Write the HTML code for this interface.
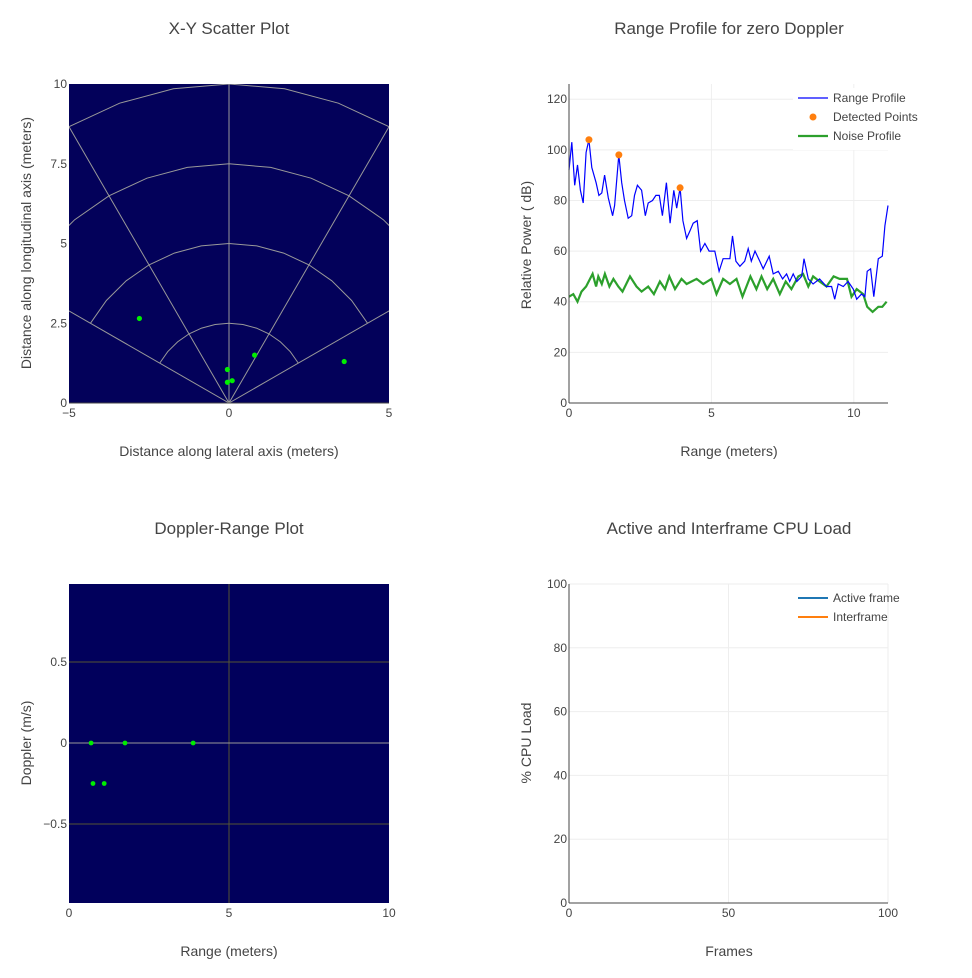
<!DOCTYPE html>
<html><head><meta charset="utf-8"><style>
body{margin:0;background:#fff;}
svg{font-family:"Liberation Sans",sans-serif;display:block}
text{fill:#444}
</style></head><body>
<svg id="s" width="972" height="978"></svg>
<script>
// ---------- data ----------
const xyX=[-2.8,-0.05,-0.05,0.1,0.8,3.6];
const xyY=[2.65,1.05,0.65,0.7,1.5,1.3];
const rpR=[0,0.1,0.2,0.3,0.4,0.5,0.6,0.7,0.8,0.95,1.05,1.15,1.25,1.38,1.53,1.6,1.75,1.85,1.95,2.08,2.2,2.3,2.4,2.55,2.68,2.78,2.93,3.05,3.17,3.28,3.42,3.55,3.68,3.78,3.9,4.0,4.13,4.25,4.36,4.5,4.62,4.77,4.92,5.12,5.27,5.41,5.65,5.74,5.86,6.0,6.17,6.29,6.4,6.53,6.7,6.82,7.03,7.17,7.35,7.5,7.64,7.75,7.87,8.0,8.17,8.25,8.4,8.57,8.8,9.04,9.22,9.33,9.45,9.63,9.8,9.98,10.1,10.27,10.39,10.47,10.59,10.7,10.86,11.0,11.09,11.2];
const rpDb=[92,103,86,94,84,79,99,104,93,87,82,83,90,81,74,78,98,87,80,73,74,82,86,84,74,79,80,82,82,74,87,71,84,77,85,72,65,68,71,72,60,63,60,60,52,57,57,66,56,54,56,61,56,60,56,53,58,51,52,49,51,48,51,48,50,57,49,47,49,46,46,41,47,46,48,45,41,43,42,52,53,42,57,58,70,78];
const nzR=[0,0.15,0.3,0.44,0.6,0.83,0.95,1.03,1.15,1.26,1.42,1.56,1.73,1.88,2.14,2.37,2.55,2.78,2.98,3.19,3.37,3.52,3.72,3.95,4.13,4.48,4.71,5.0,5.18,5.41,5.65,5.88,6.09,6.37,6.58,6.76,6.96,7.17,7.4,7.61,7.81,8.05,8.22,8.4,8.57,8.8,9.04,9.29,9.5,9.76,9.92,10.1,10.33,10.47,10.66,10.86,11.0,11.15];
const nzDb=[42,43,40,44,46,51,46,50,47,51,46,49,46,44,50,46,44,46,43,48,45,50,45,49,47,49,47,49,43,49,47,49,42,50,45,50,45,49,43,48,45,50,51,46,50,48,46,50,49,49,42,45,43,38,36,38,38,40];
const detR=[0.7,1.75,3.9];
const detDb=[104,98,85];
const dopR=[0.69,1.75,3.88,0.75,1.1];
const dopV=[0,0,0,-0.25,-0.25];
const xyXTicks=[-5,0,5], xyYTicks=[0,2.5,5,7.5,10];
const xyYTickLabels=["0","2.5","5","7.5","10"];
const rpXTicks=[0,5,10], rpYTicks=[0,20,40,60,80,100,120];
const dopXTicks=[0,5,10], dopYTicks=[-0.5,0,0.5], dopYTickLabels=["−0.5","0","0.5"];
const cpuXTicks=[0,50,100], cpuYTicks=[0,20,40,60,80,100];

const S=document.getElementById('s'),NS='http://www.w3.org/2000/svg';
function E(tag,at,parent,txt){const e=document.createElementNS(NS,tag);for(const k in at)e.setAttribute(k,at[k]);if(txt!=null)e.textContent=txt;(parent||S).appendChild(e);return e;}
function lin(d0,d1,r0,r1){return v=>r0+(v-d0)*(r1-r0)/(d1-d0);}
function title(x,y,t,n){const e=E('text',{x:x,y:y,'text-anchor':'middle','font-size':17},S,t);}
function axTitle(x,y,t,n,rot){const a={x:x,y:y,'text-anchor':'middle','font-size':14};if(rot)a.transform='rotate(-90 '+x+' '+y+')';const e=E('text',a,S,t);}
function ticks(g,xs,X,ys,Y,yb,xl,xlab,ylab){
  xs.forEach((v,i)=>{const e=E('text',{x:X(v),y:yb+14,'text-anchor':'middle','font-size':12},g,xlab?xlab[i]:String(v));});
  ys.forEach((v,i)=>{const e=E('text',{x:xl-2,y:Y(v)+4,'text-anchor':'end','font-size':12},g,ylab?ylab[i]:String(v));});
}
function path(pts){return pts.map((p,i)=>(i?'L':'M')+p[0].toFixed(1)+' '+p[1].toFixed(1)).join('');}

// ---------- XY scatter ----------
(function(){
 const L=69,R=389,T=84,B=403,X=lin(-5,5,L,R),Y=lin(0,10,B,T);
 const g=E('g',{});
 E('defs',{},g).innerHTML='<clipPath id="c1"><rect x="'+L+'" y="'+T+'" width="'+(R-L)+'" height="'+(B-T)+'"/></clipPath>';
 const bg=E('rect',{x:L,y:T,width:R-L,height:B-T,fill:'#03015a'},g);
 const cg=E('g',{'clip-path':'url(#c1)'},g);
 [2.5,5,7.5,10].forEach(r=>{const pts=[];for(let a=-60;a<=60;a+=10){const t=a*Math.PI/180;pts.push([X(r*Math.sin(t)),Y(r*Math.cos(t))]);}
  const e=E('path',{d:path(pts),fill:'none',stroke:'#999',"stroke-width":1},cg);});
 [-60,-30,0,30,60].forEach(a=>{const t=a*Math.PI/180;const e=E('line',{x1:X(0),y1:Y(0),x2:X(12*Math.sin(t)),y2:Y(12*Math.cos(t)),stroke:'#999'},cg);});
 xyX.forEach((v,i)=>{const e=E('circle',{cx:X(v),cy:Y(xyY[i]),r:2.6,fill:'#00ee00'},g);});
 E('line',{x1:L,y1:B,x2:R,y2:B,stroke:'#444'},g);
 ticks(g,xyXTicks,X,xyYTicks,Y,B,L,['−5','0','5'],xyYTickLabels);
})();
title(229,34,'X-Y Scatter Plot','xy-title');
axTitle(229,456,'Distance along lateral axis (meters)','xy-x-axis-title');
axTitle(31,243,'Distance along longitudinal axis (meters)','xy-y-axis-title',true);

// ---------- Range profile ----------
(function(){
 const L=569,R=888,T=84,B=403,X=lin(0,11.2,L,R),Y=lin(0,126,B,T);
 const g=E('g',{});
 rpYTicks.forEach(v=>{if(v)E('line',{x1:L,y1:Y(v),x2:R,y2:Y(v),stroke:'#eee'},g);});
 rpXTicks.forEach(v=>{if(v)E('line',{x1:X(v),y1:T,x2:X(v),y2:B,stroke:'#eee'},g);});
 const n=E('path',{d:path(nzR.map((v,i)=>[X(v),Y(nzDb[i])])),fill:'none',stroke:'#2ca02c','stroke-width':2.2},g);
 const r=E('path',{d:path(rpR.map((v,i)=>[X(v),Y(rpDb[i])])),fill:'none',stroke:'#0000ff','stroke-width':1.2},g);
 detR.forEach((v,i)=>{const e=E('circle',{cx:X(v),cy:Y(detDb[i]),r:3.5,fill:'#ff7f0e'},g);});
 E('line',{x1:L,y1:T,x2:L,y2:B,stroke:'#444'},g);E('line',{x1:L,y1:B,x2:R,y2:B,stroke:'#444'},g);
 ticks(g,rpXTicks,X,rpYTicks,Y,B,L);
 const lg=E('g',{},g);
 E('rect',{x:793,y:88,width:140,height:62,fill:'#fff'},lg);
 E('line',{x1:798,y1:98,x2:828,y2:98,stroke:'#0000ff','stroke-width':1.2},lg);
 E('circle',{cx:813,cy:117,r:3.5,fill:'#ff7f0e'},lg);
 E('line',{x1:798,y1:136,x2:828,y2:136,stroke:'#2ca02c','stroke-width':2.2},lg);
 [['Range Profile',102],['Detected Points',121],['Noise Profile',140]].forEach(a=>{const e=E('text',{x:833,y:a[1],'font-size':12},lg,a[0]);});
})();
title(729,34,'Range Profile for zero Doppler','range-title');
axTitle(729,456,'Range (meters)','range-x-axis-title');
axTitle(531,245,'Relative Power ( dB)','range-y-axis-title',true);

// ---------- Doppler-range ----------
(function(){
 const L=69,R=389,T=584,B=903,X=lin(0,10,L,R),Y=lin(0,0.5,743,662);
 const g=E('g',{});
 const bg=E('rect',{x:L,y:T,width:R-L,height:B-T,fill:'#01005c'},g);
 [-0.5,0.5].forEach(v=>E('line',{x1:L,y1:Y(v),x2:R,y2:Y(v),stroke:'#555533'},g));
 E('line',{x1:X(5),y1:T,x2:X(5),y2:B,stroke:'#555533'},g);
 E('line',{x1:L,y1:Y(0),x2:R,y2:Y(0),stroke:'#999'},g);
 dopR.forEach((v,i)=>{const e=E('circle',{cx:X(v),cy:Y(dopV[i]),r:2.4,fill:'#00ee00'},g);});
 ticks(g,dopXTicks,X,dopYTicks,Y,B,L,null,dopYTickLabels);
})();
title(229,534,'Doppler-Range Plot','doppler-title');
axTitle(229,956,'Range (meters)','doppler-x-axis-title');
axTitle(31,743,'Doppler (m/s)','doppler-y-axis-title',true);

// ---------- CPU ----------
(function(){
 const L=569,R=888,T=584,B=903,X=lin(0,100,L,R),Y=lin(0,100,B,T);
 const g=E('g',{});
 cpuYTicks.forEach(v=>{if(v)E('line',{x1:L,y1:Y(v),x2:R,y2:Y(v),stroke:'#eee'},g);});
 cpuXTicks.forEach(v=>{if(v)E('line',{x1:X(v),y1:T,x2:X(v),y2:B,stroke:'#eee'},g);});
 E('line',{x1:L,y1:T,x2:L,y2:B,stroke:'#444'},g);E('line',{x1:L,y1:B,x2:R,y2:B,stroke:'#444'},g);
 ticks(g,cpuXTicks,X,cpuYTicks,Y,B,L);
 const lg=E('g',{},g);
 E('line',{x1:798,y1:598,x2:828,y2:598,stroke:'#1f77b4','stroke-width':2},lg);
 E('line',{x1:798,y1:617,x2:828,y2:617,stroke:'#ff7f0e','stroke-width':2},lg);
 [['Active frame',602],['Interframe',621]].forEach(a=>{const e=E('text',{x:833,y:a[1],'font-size':12},lg,a[0]);});
})();
title(729,534,'Active and Interframe  CPU Load','cpu-title');
axTitle(729,956,'Frames','cpu-x-axis-title');
axTitle(531,743,'% CPU Load','cpu-y-axis-title',true);
</script>
</body></html>
